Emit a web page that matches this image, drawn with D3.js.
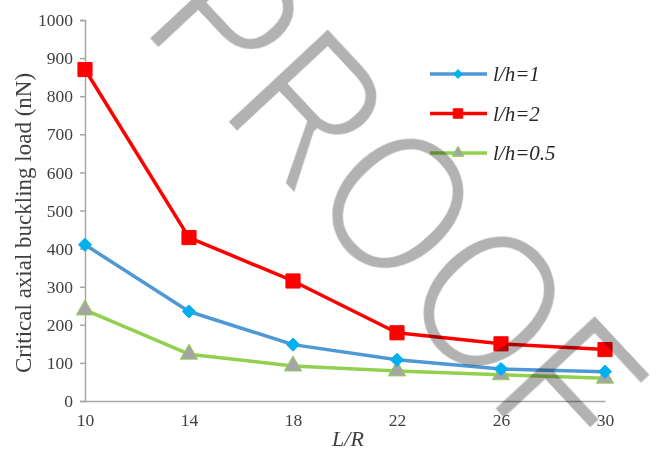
<!DOCTYPE html>
<html>
<head>
<meta charset="utf-8">
<script src="https://cdn.jsdelivr.net/npm/d3@7"></script>
<style>
  body { margin: 0; background: #fff; }
  svg { display: block; }
</style>
</head>
<body>
<svg id="chart" width="661" height="451"></svg>
<script>
// values
const ratios = [10, 14, 18, 22, 26, 30];
const yTicks = [0, 100, 200, 300, 400, 500, 600, 700, 800, 900, 1000];
const lh1 = [410, 235, 148, 108, 84, 77];
const lh2 = [870, 429, 315, 179, 150, 135];
const lh05 = [239, 123, 92, 79, 69, 60];

const seriesNames = ["l/h=1", "l/h=2", "l/h=0.5"];

const svg = d3.select("#chart");
const W = 661, H = 451;
const margin = {left: 85, right: 56, top: 20, bottom: 50};

const x = d3.scaleLinear().domain([10, 30]).range([margin.left, W - margin.right]);
const y = d3.scaleLinear().domain([0, 1000]).range([H - margin.bottom, margin.top]);

const axisColor = "#a6a6a6";
const textColor = "#404040";
const serif = "'Liberation Serif', 'Times New Roman', serif";

// y axis
const yAxis = svg.append("g")
    .attr("transform", "translate(" + margin.left + ",0)")
    .call(d3.axisLeft(y).tickValues(yTicks).tickSize(5).tickPadding(7).tickFormat(d3.format("d")));
yAxis.select(".domain").attr("stroke", axisColor).attr("stroke-width", 1.5);
yAxis.selectAll(".tick line").attr("stroke", axisColor).attr("stroke-width", 1.5);
yAxis.selectAll(".tick text")
    .attr("fill", textColor)
    .style("font-family", serif)
    .style("font-size", "17.5px");

// x axis
const xAxis = svg.append("g")
    .attr("transform", "translate(0," + y(0) + ")")
    .call(d3.axisBottom(x).tickValues(ratios).tickSize(0).tickPadding(13).tickSizeOuter(0));
xAxis.select(".domain").attr("stroke", axisColor).attr("stroke-width", 1.5);
xAxis.selectAll(".tick text")
    .attr("fill", textColor)
    .style("font-family", serif)
    .style("font-size", "17.5px");

// axis titles
svg.append("text")
    .attr("text-anchor", "middle")
    .attr("transform", "translate(31,223)rotate(-90)")
    .style("font-family", serif)
    .style("font-size", "23px")
    .attr("fill", textColor)
    .text("Critical axial buckling load (nN)");

svg.append("text")
    .attr("text-anchor", "middle")
    .attr("x", 348)
    .attr("y", 446)
    .style("font-family", serif)
    .style("font-style", "italic")
    .style("font-size", "22px")
    .attr("fill", textColor)
    .text("L/R");

const series = [
    {name: seriesNames[0], values: lh1, line: "#4f98d6", marker: "diamond", fill: "#00b0f0", stroke: "#00b0f0"},
    {name: seriesNames[1], values: lh2, line: "#ff0000", marker: "square", fill: "#ff0000", stroke: "#ff0000"},
    {name: seriesNames[2], values: lh05, line: "#92d050", marker: "triangle", fill: "#a5a5a5", stroke: "#92d050"}
];

const line = d3.line()
    .x((d, i) => x(ratios[i]))
    .y(d => y(d));

const markerPath = (type, big) => {
    const k = big ? 1 : 0.45;
    if (type === "diamond") return d3.symbol().type(d3.symbolDiamond2).size(110 * k)();
    if (type === "square") return d3.symbol().type(d3.symbolSquare).size(200 * k)();
    return d3.symbol().type(d3.symbolTriangle).size(130 * k)();
};

// draw order: green, blue, red
[2, 0, 1].forEach(k => {
    const s = series[k];
    svg.append("path")
        .datum(s.values)
        .attr("fill", "none")
        .attr("stroke", s.line)
        .attr("stroke-width", 3.5)
        .attr("stroke-linejoin", "round")
        .attr("d", line);
    svg.selectAll(".m" + k)
        .data(s.values)
        .enter().append("path")
        .attr("class", "m" + k)
        .attr("transform", (d, i) => "translate(" + x(ratios[i]) + "," + y(d) + ")")
        .attr("d", markerPath(s.marker, true))
        .attr("fill", s.fill)
        .attr("stroke", s.stroke)
        .attr("stroke-width", 1);
});

// legend
const legend = svg.append("g").attr("transform", "translate(430,74)");
series.forEach((s, i) => {
    const g = legend.append("g").attr("transform", "translate(0," + i * 39.5 + ")");
    g.append("line")
        .attr("x1", 0).attr("x2", 57)
        .attr("stroke", s.line).attr("stroke-width", 3.5);
    g.append("path")
        .attr("transform", "translate(28,0)")
        .attr("d", markerPath(s.marker, false))
        .attr("fill", s.fill)
        .attr("stroke", s.stroke);
    g.append("text")
        .attr("x", 63)
        .attr("y", 7)
        .style("font-family", serif)
        .style("font-style", "italic")
        .style("font-size", "21px")
        .attr("fill", "#262626")
        .text(s.name);
});

// watermark, thinned a little and multiplied over the chart
const defs = svg.append("defs");
defs.append("filter")
    .attr("id", "thin")
    .attr("x", "-10%").attr("y", "-10%").attr("width", "120%").attr("height", "120%")
    .append("feMorphology")
    .attr("operator", "erode")
    .attr("radius", 1.6);

svg.append("text")
    .attr("x", -13)
    .attr("transform", "translate(147,37)rotate(47)scale(1,1.18)")
    .style("font-family", "'Liberation Sans', Arial, sans-serif")
    .style("font-size", "172px")
    .style("mix-blend-mode", "multiply")
    .attr("filter", "url(#thin)")
    .attr("fill", "#b2b2b2")
    .text("PROOF");
</script>
</body>
</html>
